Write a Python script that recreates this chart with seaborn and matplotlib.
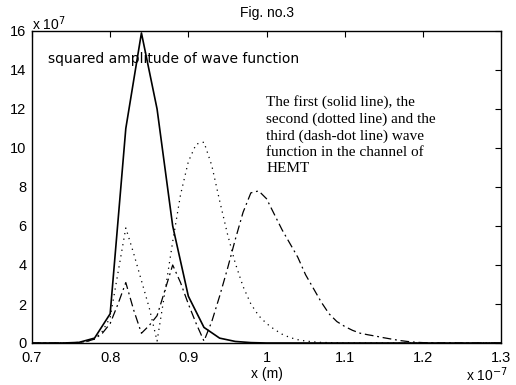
import numpy as np
import matplotlib
matplotlib.use("Agg")
import matplotlib.pyplot as plt
import seaborn as sns

# x in units of 1e-7 m, squared amplitude in units of 1e7
x_coarse = [0.70, 0.72, 0.74, 0.76, 0.78, 0.80, 0.82, 0.84, 0.86, 0.88, 0.90,
            0.92, 0.94, 0.96, 0.98, 1.00, 1.05, 1.10, 1.15, 1.20, 1.25, 1.30]
psi1_sq = [0, 0, 0, 0.03, 0.25, 1.5, 11.0, 15.9, 12.0, 6.0, 2.4,
           0.8, 0.25, 0.08, 0.02, 0, 0, 0, 0, 0, 0, 0]

x_fine = np.round(np.arange(0.70, 1.3001, 0.01), 2)
psi2_sq = [0, 0, 0, 0, 0, 0.01, 0.03, 0.08, 0.2, 0.6,
           1.3, 3.6, 5.9, 4.6, 3.2, 1.8, 0.1, 2.6, 5.2, 7.6,
           9.3, 10.2, 10.3, 9.1, 7.3, 5.6, 4.1, 2.9, 2.0, 1.4,
           1.0, 0.7, 0.45, 0.28, 0.17, 0.1, 0.06, 0.03, 0.02, 0.01,
           0, 0, 0, 0, 0, 0, 0, 0, 0, 0,
           0, 0, 0, 0, 0, 0, 0, 0, 0, 0, 0]
psi3_sq = [0, 0, 0, 0, 0, 0.01, 0.03, 0.08, 0.2, 0.5,
           1.0, 2.0, 3.1, 1.7, 0.5, 0.9, 1.4, 2.7, 4.0, 3.1,
           2.0, 1.0, 0.1, 1.1, 2.4, 3.8, 5.3, 6.7, 7.7, 7.8,
           7.4, 6.6, 5.8, 5.1, 4.4, 3.5, 2.8, 2.1, 1.5, 1.1,
           0.85, 0.65, 0.5, 0.42, 0.35, 0.27, 0.2, 0.13, 0.08, 0.04,
           0.02, 0.01, 0, 0, 0, 0, 0, 0, 0, 0, 0]

x_ticks = [0.7, 0.8, 0.9, 1.0, 1.1, 1.2, 1.3]
x_tick_labels = ['0.7', '0.8', '0.9', '1', '1.1', '1.2', '1.3']
y_ticks = [0, 2, 4, 6, 8, 10, 12, 14, 16]

sns.set_theme(style="white")
plt.rcParams['font.family'] = ['Liberation Sans', 'DejaVu Sans']
plt.rcParams['text.color'] = 'black'
plt.rcParams['axes.labelcolor'] = 'black'

fig = plt.figure(figsize=(5.16, 3.85), dpi=100)
ax = fig.add_axes([32 / 516, 1 - 343 / 385, 469 / 516, 312 / 385])

sns.lineplot(x=x_coarse, y=psi1_sq, ax=ax, color='black', linewidth=1.2,
             estimator=None, sort=False)
sns.lineplot(x=x_fine, y=psi2_sq, ax=ax, color='black', linewidth=0.9,
             linestyle=(0, (1, 3.5)), estimator=None, sort=False)
sns.lineplot(x=x_fine, y=psi3_sq, ax=ax, color='black', linewidth=0.9,
             linestyle=(0, (7, 3, 1.5, 3)), estimator=None, sort=False)

ax.set_xlim(0.7, 1.3)
ax.set_ylim(0, 16)
ax.set_xticks(x_ticks)
ax.set_xticklabels(x_tick_labels)
ax.set_yticks(y_ticks)
ax.tick_params(direction='in', length=4, width=0.8, colors='black',
               labelsize=10.5, top=True, right=True)
ax.tick_params(axis='x', pad=6)
ax.tick_params(axis='y', pad=4)
for s in ax.spines.values():
    s.set_color('black')
    s.set_linewidth(1.0)

ax.set_title('Fig. no.3', fontsize=10, pad=10)
ax.set_xlabel('x (m)', fontsize=10, labelpad=1)

ax.text(0.034, 0.91, 'squared amplitude of wave function', transform=ax.transAxes,
        va='center', ha='left', fontsize=10, family='DejaVu Sans')
ax.text(1.0, 12.7, 'The first (solid line), the\nsecond (dotted line) and the\n'
        'third (dash-dot line) wave\nfunction in the channel of\nHEMT',
        va='top', ha='left', fontsize=11, family='Liberation Serif',
        linespacing=1.32)

fig.text(32 / 516, 1 - 24 / 385, r'x 10$^{7}$', ha='left', va='center', fontsize=10)
fig.text(508 / 516, 1 - 375 / 385, r'x 10$^{-7}$', ha='right', va='center', fontsize=10)

fig.savefig('out.png', dpi=100)
